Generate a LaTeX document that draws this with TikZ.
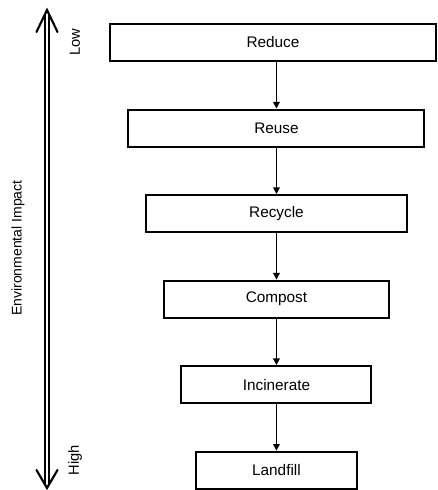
\documentclass[tikz,border=0pt]{standalone}
\usepackage{fontspec}
\setmainfont{Liberation Sans}
\usetikzlibrary{arrows.meta, positioning}

\begin{document}
\begin{tikzpicture}[x=0.75pt, y=-0.75pt, node distance=34.9pt,
  stage/.style={draw, line width=1.5pt, minimum height=27.75pt, inner sep=0pt,
    font=\fontsize{11.5}{13}\selectfont},
  flow/.style={line width=1pt, -{Triangle[length=5pt,width=5pt]}},
  impact/.style={double, double distance=1.4pt, line width=1.2pt},
  barb/.style={line width=1.6pt, line cap=round, line join=miter},
  side/.style={rotate=90, font=\fontsize{11}{13}\selectfont}]

  \useasboundingbox (0,0) rectangle (438,490);

  % waste hierarchy
  \node[stage, minimum width=244.5pt] (reduce) at (273,42.5) {Reduce};
  \node[stage, minimum width=222pt, below=of reduce, xshift=2.6pt] (reuse) {Reuse};
  \node[stage, minimum width=195.5pt, below=of reuse] (recycle) {Recycle};
  \node[stage, minimum width=168.5pt, below=of recycle] (compost) {Compost};
  \node[stage, minimum width=142.5pt, below=of compost] (incinerate) {Incinerate};
  \node[stage, minimum width=120.5pt, below=of incinerate] (landfill) {Landfill};

  \draw[flow] (reuse.north |- reduce.south) -- (reuse.north);
  \draw[flow] (reuse) -- (recycle);
  \draw[flow] (recycle) -- (compost);
  \draw[flow] (compost) -- (incinerate);
  \draw[flow] (incinerate) -- (landfill);

  % impact scale
  \coordinate (top) at (47,10);
  \coordinate (bot) at (47,488);
  \draw[impact] ([yshift=-3pt]top) -- ([yshift=3pt]bot);
  \draw[barb] ([xshift=-7.9pt,yshift=-16.5pt]top) -- (top) -- ([xshift=7.9pt,yshift=-16.5pt]top);
  \draw[barb] ([xshift=-7.9pt,yshift=13.5pt]bot) -- (bot) -- ([xshift=7.9pt,yshift=13.5pt]bot);

  \node[side] (low) at (75,42) {Low};
  \node[side] (high) at (75,460) {High};
  \node[side, font=\fontsize{10.5}{12}\selectfont] (envimpact) at (18,248) {Environmental Impact};
\end{tikzpicture}
\end{document}
